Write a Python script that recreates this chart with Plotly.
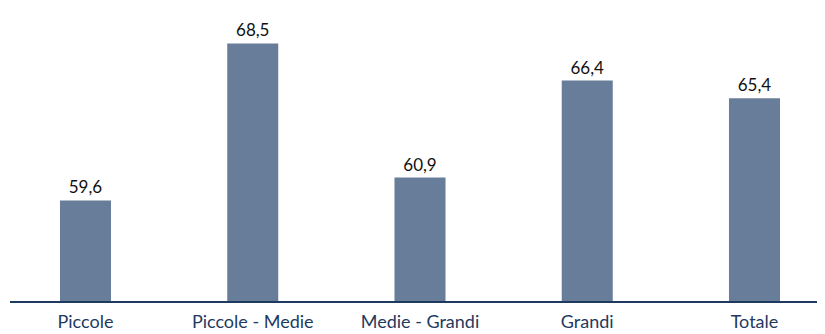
import plotly.graph_objects as go

categories = ["Piccole", "Piccole - Medie", "Medie - Grandi", "Grandi", "Totale"]
values = [59.6, 68.5, 60.9, 66.4, 65.4]

labels = [f"{v:.1f}".replace(".", ",") for v in values]

fig = go.Figure()
fig.add_trace(go.Bar(
    x=categories, y=values,
    marker=dict(color="#687d99", line=dict(width=0)),
    text=labels, textposition="outside", cliponaxis=False,
    textfont=dict(family="Lato, Noto Sans, sans-serif", size=17, color="#111111"),
))

# page body has an 8px margin, so the figure is a bit smaller than the window
fig.update_layout(
    width=817, height=326,
    margin=dict(l=2, r=0, t=0, b=33, autoexpand=False),
    plot_bgcolor="white", paper_bgcolor="white",
    bargap=0.695, showlegend=False,
    font=dict(family="Lato, Noto Sans, sans-serif"),
)
fig.update_xaxes(
    range=[-0.4514, 4.4216], automargin=False,
    showline=True, linecolor="#1f3a5f", linewidth=1.5,
    ticks="", showgrid=False, ticklabelstandoff=4,
    tickfont=dict(size=18, color="#1f3a5f"),
)
fig.update_yaxes(range=[53.9, 70.51], visible=False, showgrid=False, automargin=False)

fig.write_html("out.html")
